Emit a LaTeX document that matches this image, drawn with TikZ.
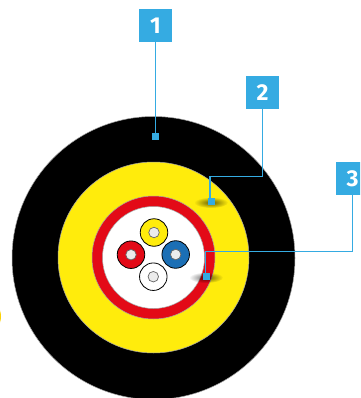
\documentclass[tikz,border=0pt]{standalone}
\usepackage{fontspec}
\setsansfont{Fira Sans}
\usepackage{xcolor}
\usetikzlibrary{fadings,shapes.geometric}
\definecolor{callblue}{HTML}{35ABE2}
\definecolor{jacketyellow}{HTML}{FFEC0C}
\definecolor{tubered}{HTML}{E30A17}
\definecolor{fibreblue}{HTML}{1B6FB5}
\tikzfading[name=spotfade, inner color=transparent!0, outer color=transparent!100]
\tikzset{
  ring/.style={circle, draw=gray!70, line width=0.5pt, inner sep=0pt},
  fibre/.style={circle, draw=black, line width=0.8pt, minimum size=27.5pt, inner sep=0pt},
  core/.style={circle, draw=gray!80!black, line width=0.7pt, fill=gray!15, minimum size=10.5pt, inner sep=0pt},
  numbox/.style={fill=callblue, text=white, minimum size=33pt, inner sep=0pt, font=\sffamily\bfseries\fontsize{23}{23}\selectfont},
  marker/.style={fill=callblue, minimum size=7pt, inner sep=0pt},
  leader/.style={draw=callblue, line width=1.3pt},
  spot/.style={ellipse, fill=black, fill opacity=0.6, path fading=spotfade, minimum width=34pt, minimum height=11pt, inner sep=0pt},
}
\begin{document}
\begin{tikzpicture}[x=1pt, y=-1pt]
  \clip (0,0) rectangle (360,398);
  \fill[white] (0,0) rectangle (360,398);
  % cable layers
  \node[ring, fill=black, minimum size=283pt] (jacket) at (153.5,258) {};
  \node[ring, fill=jacketyellow, minimum size=191pt] (yarn) at (153.5,257.5) {};
  \node[ring, fill=tubered, minimum size=123pt] (tube) at (153.5,257.5) {};
  \node[ring, fill=white, minimum size=102pt] (inner) at (153.5,257.5) {};
  % four fibres
  \foreach \name/\col/\px/\py in {top/jacketyellow/154/232.5,left/tubered/131/254.7,right/fibreblue/175.7/254.5,low/white/153.3/276.7} {
    \node[fibre, fill=\col] (f\name) at (\px,\py) {};
    \node[core] (c\name) at (\px,\py) {};
  }
  % shadows under the markers
  \node[spot] (spot2) at (211,202.5) {};
  \node[spot] (spot3) at (206,277.5) {};
  % edge of the neighbouring shape
  \node[ellipse, fill=yellow!70!orange, minimum width=8pt, minimum height=18pt, inner sep=0pt] (edge) at (-3,316.5) {};
  % callouts
  \node[numbox] (num1) at (155.5,25.5) {1};
  \node[numbox] (num2) at (262.5,92.5) {2};
  \node[numbox] (num3) at (352.5,178.5) {3};
  \node[marker] (mark1) at (155.5,136.5) {};
  \node[marker] (mark2) at (211.5,201.5) {};
  \node[marker] (mark3) at (206.5,276.5) {};
  \coordinate (knee2) at (210,176.5);
  \coordinate (knee3) at (205.5,251.5);
  \draw[leader] (num1) -- (mark1);
  \draw[leader] (num2.south) |- (knee2) -- (knee2 |- mark2.north);
  \draw[leader] (num3.south) |- (knee3) -- (knee3 |- mark3.north);
\end{tikzpicture}
\end{document}
